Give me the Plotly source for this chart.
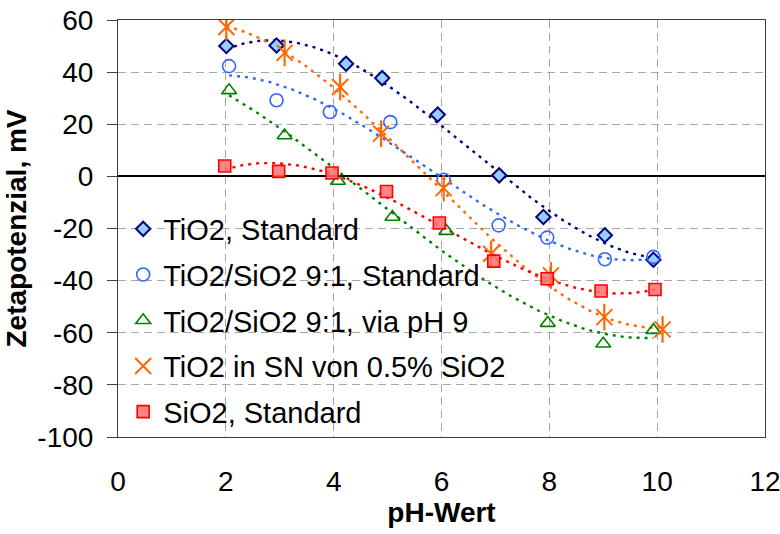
import numpy as np
import plotly.graph_objects as go

# ---- data ----
x_tio2 = [2.01, 2.94, 4.23, 4.90, 5.93, 7.07, 7.89, 9.03, 9.93]
y_tio2 = [50.0, 50.2, 43.2, 37.7, 23.7, 0.4, -15.6, -22.6, -32.0]

x_ts_std = [2.06, 2.94, 3.93, 5.05, 6.04, 7.06, 7.96, 9.03, 9.93]
y_ts_std = [42.3, 29.2, 24.7, 20.8, -1.3, -18.8, -23.5, -31.8, -30.9]

x_ts_ph9 = [2.06, 3.09, 4.08, 5.09, 6.09, 7.97, 9.00, 9.93]
y_ts_ph9 = [33.0, 15.7, -1.8, -15.6, -21.0, -56.3, -64.2, -59.0]

x_sn = [2.01, 3.09, 4.12, 4.88, 6.04, 6.92, 8.03, 9.02, 10.10]
y_sn = [57.3, 47.4, 34.3, 16.4, -4.5, -29.7, -38.0, -54.0, -58.7]

x_sio2 = [1.98, 2.98, 3.97, 4.98, 5.96, 6.97, 7.96, 8.96, 9.96]
y_sio2 = [4.0, 1.9, 1.3, -5.8, -17.9, -32.5, -39.3, -44.0, -43.4]

names = ["TiO2, Standard", "TiO2/SiO2 9:1, Standard", "TiO2/SiO2 9:1, via pH 9",
         "TiO2 in SN von 0.5% SiO2", "SiO2, Standard"]
x_ticks = [0, 2, 4, 6, 8, 10, 12]
y_ticks = [60, 40, 20, 0, -20, -40, -60, -80, -100]

FONT = "Liberation Sans, Arial, sans-serif"
ORANGE = "#FF6600"

series = [
    (x_tio2, y_tio2, dict(symbol="diamond", size=11, color="#99CCFF",
                          line=dict(color="#000080", width=2)), "#000080"),
    (x_ts_std, y_ts_std, dict(symbol="circle-open", size=13,
                              line=dict(color="#3366FF", width=1.6), color="#3366FF"), "#3366FF"),
    (x_ts_ph9, y_ts_ph9, dict(symbol="triangle-up-open", size=13,
                              line=dict(color="#008000", width=1.6), color="#008000"), "#008000"),
    (x_sn, y_sn, dict(symbol="x-thin-open", size=16,
                      line=dict(color=ORANGE, width=2), color=ORANGE), ORANGE),
    (x_sio2, y_sio2, dict(symbol="square", size=12, color="rgba(255,110,110,0.85)",
                          line=dict(color="#FF0000", width=1.6)), "#FF0000"),
]

fig = go.Figure()

# white backdrop behind the legend (hides gridlines, like the original)
fig.add_shape(type="rect", xref="paper", yref="paper", x0=0.002, x1=0.57, y0=0.003, y1=0.515,
              fillcolor="white", line=dict(width=0), layer="between")

# trend lines (cubic fit of each series, like the spreadsheet trendline)
for (xs, ys, mk, lc) in series:
    c = np.polyfit(xs, ys, 3)
    xf = np.linspace(min(xs), max(xs), 120)
    fig.add_trace(go.Scatter(x=xf, y=np.polyval(c, xf), mode="lines",
                             line=dict(color=lc, width=2.4, dash="3px,5px"),
                             showlegend=False, hoverinfo="skip"))

for i, (xs, ys, mk, lc) in enumerate(series):
    fig.add_trace(go.Scatter(x=xs, y=ys, mode="markers", name=names[i],
                             marker=mk, legendgroup=f"g{i}"))
    if i == 3:
        # vertical bar of the six-armed asterisk marker
        fig.add_trace(go.Scatter(x=xs, y=ys, mode="markers", showlegend=False,
                                 legendgroup=f"g{i}", hoverinfo="skip",
                                 marker=dict(symbol="line-ns-open", size=19, color=ORANGE,
                                             line=dict(color=ORANGE, width=2.2))))

fig.update_layout(
    width=780, height=534,
    margin=dict(l=118, r=15, t=20, b=97, autoexpand=False),
    paper_bgcolor="white", plot_bgcolor="white",
    font=dict(family=FONT, size=28, color="black"),
    legend=dict(x=0.008, y=0.56, xanchor="left", yanchor="top",
                bgcolor="rgba(0,0,0,0)", borderwidth=0, tracegroupgap=5,
                font=dict(size=29), itemwidth=30),
    showlegend=True,
)
fig.update_xaxes(range=[0, 12], tickvals=x_ticks, ticktext=[str(v) for v in x_ticks],
                 showgrid=True, gridcolor="#A6A6A6", griddash="8px,5px", gridwidth=1,
                 zeroline=False, showline=True, linecolor="#404040", linewidth=1,
                 mirror=True, ticks="", ticklabelstandoff=19, automargin=False,
                 ticklabeloverflow="allow",
                 title=dict(text="<b>pH-Wert</b>", font=dict(size=28), standoff=4))
fig.update_yaxes(range=[-100, 60], tickvals=y_ticks, ticktext=[str(v) for v in y_ticks],
                 showgrid=True, gridcolor="#A6A6A6", griddash="8px,5px", gridwidth=1,
                 zeroline=True, zerolinecolor="black", zerolinewidth=1.5,
                 showline=True, linecolor="#404040", linewidth=1, mirror=True,
                 ticks="outside", ticklen=10, tickcolor="#404040", ticklabelstandoff=8,
                 automargin=False, ticklabeloverflow="allow",
                 title=dict(text="<b>Zetapotenzial, mV</b>", font=dict(size=28), standoff=2))

fig.write_html("out.html")
